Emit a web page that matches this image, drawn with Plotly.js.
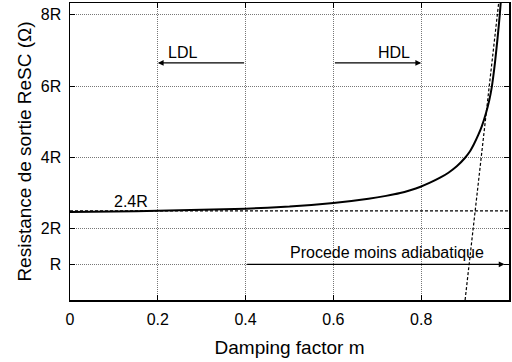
<!DOCTYPE html>
<html>
<head>
<meta charset="utf-8">
<script src="https://cdn.plot.ly/plotly-3.0.1.min.js"></script>
<style>html,body{margin:0;padding:0;background:#fff;}#chart{width:512px;height:362px;}</style>
</head>
<body>
<div id="chart"></div>
<script>
// Damping factor m vs output resistance (units of R)
const dampingM = [0, 0.1, 0.2, 0.3, 0.4, 0.5, 0.6, 0.68, 0.72, 0.752, 0.775, 0.797, 0.82, 0.843, 0.862, 0.881, 0.9, 0.91, 0.92, 0.93, 0.938, 0.948, 0.955, 0.9605, 0.968, 0.974, 0.979, 0.984];
const resistance = [2.47, 2.48, 2.50, 2.53, 2.56, 2.62, 2.72, 2.84, 2.92, 3.00, 3.08, 3.17, 3.29, 3.43, 3.57, 3.75, 3.99, 4.15, 4.37, 4.63, 4.87, 5.26, 5.6, 5.95, 6.65, 7.35, 8.0, 8.8];

const baselineM = [0, 1];
const baselineR = [2.5, 2.5];

const asymptoteM = [0.9, 0.978];
const asymptoteR = [0, 8.5];

const xTickVals = [0, 0.2, 0.4, 0.6, 0.8, 1];
const xTickText = ['0', '0.2', '0.4', '0.6', '0.8', '1'];
const yTickVals = [1, 2, 4, 6, 8];
const yTickText = ['R', '2R', '4R', '6R', '8R'];

const arrowTailM = [0.4, 0.6, 0.4];
const arrowHeadM = [0.2, 0.8, 0.99];
const arrowR = [6.65, 6.65, 1.0];

const labelText = ['LDL', 'HDL', '2.4R', 'Procede moins adiabatique'];
const labelM = [0.257, 0.738, 0.138, 0.723];
const labelR = [6.95, 6.95, 2.77, 1.33];

const FONT = 'Liberation Sans, Arial, sans-serif';

const traces = [
  {x: baselineM, y: baselineR, mode: 'lines', line: {color: '#000', width: 1.2, dash: '3px,2px'}, hoverinfo: 'skip'},
  {x: asymptoteM, y: asymptoteR, mode: 'lines', line: {color: '#000', width: 1.2, dash: '3px,2px'}, hoverinfo: 'skip'},
  {x: dampingM, y: resistance, mode: 'lines', line: {color: '#000', width: 2, shape: 'spline', smoothing: 0.5}, hoverinfo: 'skip'}
];

const annotations = [];
for (let i = 0; i < arrowTailM.length; i++) {
  annotations.push({
    x: arrowHeadM[i], y: arrowR[i], xref: 'x', yref: 'y',
    ax: arrowTailM[i], ay: arrowR[i], axref: 'x', ayref: 'y',
    text: '', showarrow: true, arrowhead: 2, arrowsize: 0.9, arrowwidth: 1.3,
    arrowcolor: '#000', standoff: 0, startstandoff: 0
  });
}
for (let i = 0; i < labelText.length; i++) {
  annotations.push({
    x: labelM[i], y: labelR[i], xref: 'x', yref: 'y', text: labelText[i],
    showarrow: false, font: {family: FONT, size: 16, color: '#000'}
  });
}

const axisCommon = {
  showline: true, linecolor: '#000', linewidth: 1.5, mirror: 'ticks',
  ticks: 'inside', ticklen: 5, tickcolor: '#000', tickwidth: 1,
  showgrid: true, gridcolor: '#777', griddash: '1px,1px', gridwidth: 1,
  zeroline: false, automargin: false,
  tickfont: {family: FONT, size: 16, color: '#000'}
};

const layout = {
  width: 512, height: 362,
  margin: {l: 70, r: 3, t: 3, b: 62},
  paper_bgcolor: '#fff', plot_bgcolor: '#fff',
  showlegend: false,
  xaxis: Object.assign({}, axisCommon, {
    range: [0, 1], tickmode: 'array', tickvals: xTickVals, ticktext: xTickText,
    ticklabelstandoff: 4,
    title: {text: 'Damping factor m', font: {family: FONT, size: 19, color: '#000'}, standoff: 14}
  }),
  yaxis: Object.assign({}, axisCommon, {
    range: [0, 8.33], tickmode: 'array', tickvals: yTickVals, ticktext: yTickText,
    ticklabelstandoff: 4,
    title: {text: 'Resistance de sortie ReSC (Ω)', font: {family: FONT, size: 19, color: '#000'}, standoff: 4}
  }),
  annotations: annotations
};

Plotly.newPlot('chart', traces, layout, {staticPlot: true, displayModeBar: false});
</script>
</body>
</html>
